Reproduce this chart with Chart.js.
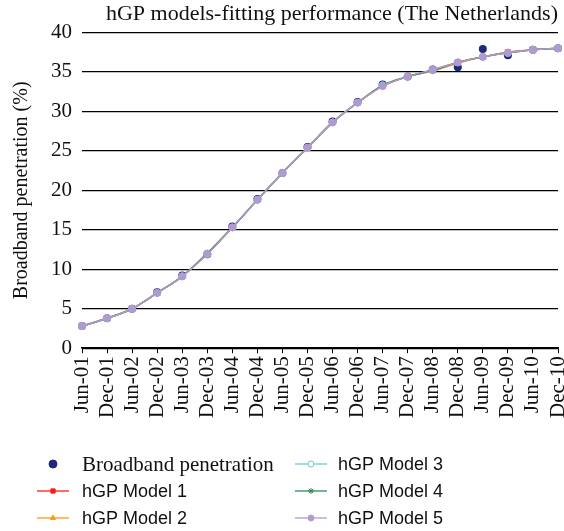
<!DOCTYPE html>
<html>
<head>
<meta charset="utf-8">
<script src="https://cdn.jsdelivr.net/npm/chart.js@4.4.1/dist/chart.umd.min.js"></script>
<style>
  html, body { margin: 0; padding: 0; background: #fff; }
  #wrap { width: 564px; height: 531px; }
</style>
</head>
<body>
<div id="wrap"><canvas id="chart" width="564" height="531"></canvas></div>
<script>
const labels = ["Jun-01","Dec-01","Jun-02","Dec-02","Jun-03","Dec-03","Jun-04","Dec-04","Jun-05","Dec-05",
                "Jun-06","Dec-06","Jun-07","Dec-07","Jun-08","Dec-08","Jun-09","Dec-09","Jun-10","Dec-10"];

const actual = [2.8, 3.8, 5.0, 7.1, 9.2, 11.9, 15.4, 18.9, 22.2, 25.5, 28.7, 31.2, 33.4, 34.4, 35.3, 35.6, 37.9, 37.1, 37.8, 38.0];
const model1 = [2.8, 3.8, 5.0, 7.0, 9.1, 12.0, 15.3, 18.8, 22.2, 25.4, 28.6, 31.1, 33.2, 34.4, 35.2, 36.2, 36.9, 37.5, 37.8, 38.0];
const model2 = [2.8, 3.8, 5.0, 7.0, 9.1, 12.0, 15.3, 18.8, 22.2, 25.4, 28.6, 31.1, 33.2, 34.4, 35.1, 36.1, 36.9, 37.5, 37.8, 38.0];
const model3 = [2.8, 3.8, 5.0, 7.0, 9.1, 12.0, 15.3, 18.8, 22.2, 25.4, 28.6, 31.1, 33.3, 34.4, 35.2, 36.2, 36.9, 37.4, 37.8, 38.0];
const model4 = [2.8, 3.8, 5.0, 7.0, 9.1, 12.0, 15.3, 18.8, 22.2, 25.4, 28.6, 31.1, 33.3, 34.4, 35.2, 36.2, 36.9, 37.4, 37.8, 38.0];
const model5 = [2.8, 3.8, 5.0, 7.0, 9.1, 11.9, 15.3, 18.8, 22.2, 25.4, 28.6, 31.1, 33.2, 34.4, 35.3, 36.2, 36.9, 37.4, 37.8, 38.0];

const serif = "'Liberation Serif', 'DejaVu Serif', serif";
const sans = "'Liberation Sans', Arial, sans-serif";

function modelSet(label, data, color, style, fill, order) {
    return {
        label, data, order,
        borderColor: color,
        backgroundColor: fill ? color : "#fff",
        pointStyle: style,
        pointRadius: 3.5,
        pointBorderWidth: 1,
        borderWidth: 1.5,
        tension: 0.35,
        fill: false
    };
}

const datasets = [
    {
        label: "Broadband penetration",
        data: actual,
        order: 6,
        showLine: false,
        borderColor: "#1e2a78",
        backgroundColor: "#1e2a78",
        pointStyle: "circle",
        pointRadius: 4,
        pointBorderWidth: 0
    },
    modelSet("hGP Model 1", model1, "#ff1a1a", "rect", true, 5),
    modelSet("hGP Model 2", model2, "#ff9a1a", "triangle", true, 4),
    modelSet("hGP Model 3", model3, "#6cc9d6", "circle", false, 3),
    modelSet("hGP Model 4", model4, "#2e8b57", "star", false, 2),
    modelSet("hGP Model 5", model5, "#b09ad0", "circle", true, 1)
];

// two-column legend drawn under the plot
const columnLegend = {
    id: "columnLegend",
    afterDraw(chart) {
        const ctx = chart.ctx;
        const cols = [{ mark: 53, text: 82 }, { mark: 311, text: 338 }];
        const rows = [464, 491, 518];
        chart.data.datasets.forEach((ds, i) => {
            const col = cols[Math.floor(i / 3)];
            const y = rows[i % 3];
            ctx.save();
            if (ds.showLine !== false) {
                ctx.strokeStyle = ds.borderColor;
                ctx.lineWidth = 1.3;
                ctx.beginPath();
                ctx.moveTo(col.mark - 16, y);
                ctx.lineTo(col.mark + 16, y);
                ctx.stroke();
            }
            ctx.fillStyle = ds.backgroundColor;
            ctx.strokeStyle = ds.borderColor;
            ctx.lineWidth = 1;
            Chart.helpers.drawPoint(ctx, {
                pointStyle: ds.pointStyle,
                radius: i === 0 ? 4 : 3,
                borderWidth: 1
            }, col.mark, y);
            ctx.fillStyle = "#111";
            ctx.textBaseline = "middle";
            ctx.font = (i === 0 ? "21px " + serif : "18px " + sans);
            ctx.fillText(ds.label, col.text, y + 1);
            ctx.restore();
        });
    }
};

new Chart(document.getElementById("chart"), {
    type: "line",
    data: { labels, datasets },
    options: {
        responsive: false,
        animation: false,
        layout: { padding: { left: 10, right: 6, top: 0, bottom: 110 } },
        plugins: {
            legend: { display: false },
            tooltip: { enabled: false },
            title: {
                display: true,
                text: "hGP models-fitting performance (The Netherlands)",
                align: "end",
                color: "#111",
                font: { family: serif, size: 22, weight: "normal" },
                padding: { top: 1, bottom: 5 }
            }
        },
        scales: {
            x: {
                offset: false,
                afterFit(scale) {
                    scale.paddingRight = 1;
                    scale.paddingLeft = 0;
                },
                grid: { display: true, drawOnChartArea: false, drawTicks: true, tickLength: 5, color: "#000" },
                border: { display: true, color: "#000", width: 1.5 },
                ticks: {
                    autoSkip: false,
                    maxRotation: 90, minRotation: 90,
                    color: "#111",
                    padding: 3,
                    font: { family: serif, size: 21 }
                }
            },
            y: {
                min: 0, max: 40,
                grid: { color: "#000", lineWidth: 1.2, drawTicks: false },
                border: { display: false },
                ticks: {
                    stepSize: 5,
                    color: "#111",
                    padding: 10,
                    font: { family: serif, size: 21 }
                },
                title: {
                    display: true,
                    text: "Broadband penetration (%)",
                    color: "#111",
                    font: { family: serif, size: 20 },
                    padding: { top: 0, bottom: 7 }
                }
            }
        }
    },
    plugins: [columnLegend]
});
</script>
</body>
</html>
